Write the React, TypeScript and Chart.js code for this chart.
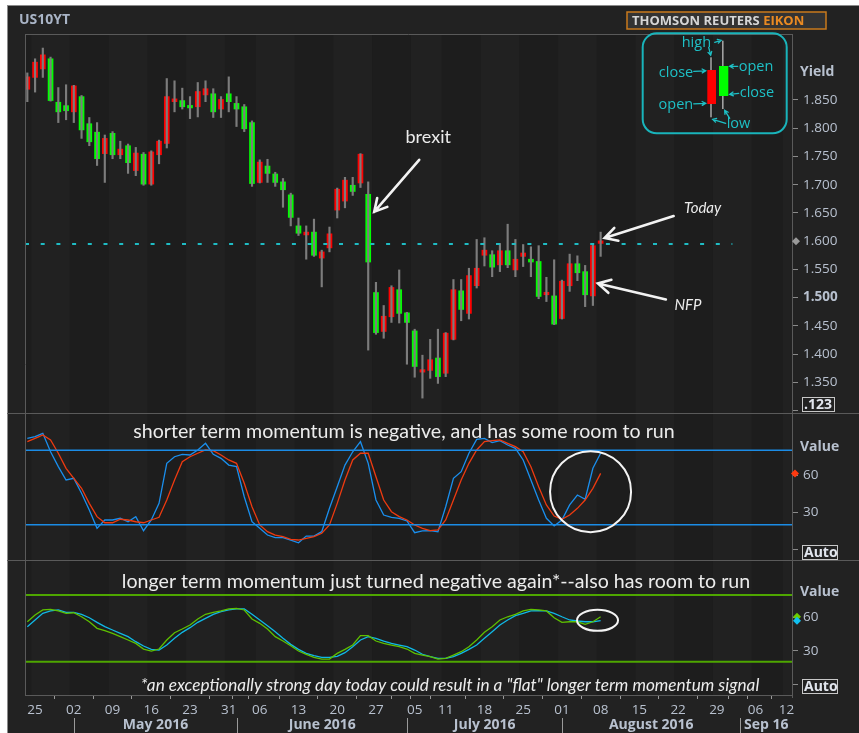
import React, { useEffect, useRef } from 'react';
import { Chart, registerables } from 'chart.js';
Chart.register(...registerables);

// ---------- data ----------
const SYMBOL = 'US10YT';
// daily candles (trading-day index 0 = 22 Apr 2016 ... 74 = 08 Aug 2016)
const OPEN = [1.869,1.890,1.905,1.923,1.846,1.840,1.829,1.856,1.808,1.793,1.755,1.791,1.753,1.769,1.725,1.754,1.701,1.753,1.773,1.847,1.849,1.840,1.838,1.859,1.861,1.834,1.861,1.844,1.838,1.810,1.704,1.733,1.719,1.705,1.682,1.627,1.611,1.616,1.570,1.588,1.655,1.671,1.699,1.703,1.683,1.509,1.440,1.466,1.514,1.473,1.441,1.368,1.371,1.393,1.366,1.426,1.512,1.472,1.521,1.575,1.576,1.558,1.583,1.549,1.573,1.568,1.564,1.505,1.503,1.463,1.521,1.560,1.546,1.503,1.596];
const HIGH = [1.898,1.923,1.942,1.926,1.872,1.877,1.876,1.858,1.819,1.810,1.788,1.794,1.777,1.772,1.766,1.757,1.760,1.779,1.888,1.884,1.871,1.856,1.881,1.884,1.870,1.856,1.891,1.856,1.842,1.813,1.744,1.745,1.722,1.711,1.685,1.641,1.627,1.639,1.584,1.625,1.694,1.713,1.713,1.755,1.705,1.527,1.486,1.521,1.549,1.474,1.444,1.398,1.426,1.444,1.438,1.532,1.532,1.552,1.603,1.606,1.583,1.596,1.630,1.603,1.594,1.590,1.592,1.536,1.567,1.531,1.577,1.574,1.557,1.593,1.616];
const LOW = [1.847,1.864,1.890,1.848,1.810,1.815,1.810,1.782,1.769,1.734,1.704,1.746,1.746,1.720,1.716,1.699,1.699,1.737,1.765,1.829,1.834,1.817,1.820,1.847,1.819,1.819,1.829,1.803,1.794,1.697,1.703,1.704,1.697,1.660,1.627,1.610,1.568,1.573,1.519,1.581,1.641,1.659,1.681,1.695,1.407,1.435,1.428,1.456,1.455,1.382,1.359,1.322,1.357,1.348,1.360,1.425,1.459,1.462,1.517,1.556,1.537,1.546,1.553,1.537,1.555,1.537,1.498,1.493,1.452,1.462,1.511,1.530,1.484,1.486,1.573];
const CLOSE = [1.891,1.917,1.930,1.849,1.829,1.831,1.875,1.797,1.776,1.746,1.782,1.753,1.763,1.739,1.756,1.701,1.758,1.777,1.856,1.852,1.838,1.836,1.865,1.870,1.829,1.851,1.847,1.834,1.799,1.702,1.740,1.720,1.704,1.691,1.642,1.614,1.616,1.575,1.581,1.613,1.692,1.708,1.688,1.754,1.563,1.438,1.467,1.518,1.472,1.456,1.378,1.372,1.390,1.360,1.437,1.514,1.479,1.539,1.552,1.584,1.554,1.583,1.558,1.568,1.579,1.563,1.502,1.509,1.453,1.529,1.560,1.544,1.505,1.592,1.600];
const LAST_LEVEL = 1.595;
const LAST_LEVEL_END = 91;

// shorter-term momentum (blue fast line, red slow line)
const SHORT_FAST = [89.5,90.8,93.5,78.7,66.7,56.0,57.3,45.3,31.9,17.1,23.8,23.8,25.2,22.4,26.5,15.2,23.8,37.2,69.4,74.7,76.6,76.1,80.1,85.5,76.6,73.4,68.0,66.7,42.5,22.4,17.1,11.7,9.6,9.6,7.7,5.5,10.9,10.9,14.4,33.2,50.6,68.0,78.7,86.8,69.4,39.9,27.8,26.0,25.2,23.0,13.6,15.0,15.2,14.4,34.5,57.3,62.7,77.5,88.7,89.5,86.0,87.6,84.1,81.4,72.1,56.0,39.9,25.2,19.0,23.8,35.9,43.9,40.5,65.4,77.5];
const SHORT_SLOW = [86.8,89.5,92.2,88.2,77.5,65.4,57.3,49.3,37.2,26.5,21.6,21.6,24.4,23.8,22.4,21.6,23.8,26.0,39.9,56.0,70.7,74.7,77.5,80.1,79.5,76.1,72.1,69.4,53.3,34.5,19.8,14.4,11.7,10.4,8.3,7.7,9.1,10.4,13.1,19.8,37.2,56.0,72.1,77.5,77.5,58.6,39.9,30.5,26.5,23.8,19.8,17.1,15.2,15.8,23.8,39.9,56.0,69.4,80.1,86.8,87.6,88.2,85.5,82.8,78.7,66.7,50.6,35.9,27.0,24.4,27.8,33.2,39.9,49.3,61.3];
// longer-term momentum (green and cyan lines)
const LONG_A = [56.0,62.1,66.6,67.2,65.7,63.6,64.1,60.5,56.0,50.1,48.0,45.6,42.6,39.6,36.6,31.5,29.7,31.5,39.6,46.2,49.5,53.1,58.5,62.7,64.5,65.7,67.5,68.1,66.6,58.5,54.6,49.5,42.6,38.7,34.5,29.7,26.7,24.0,22.5,22.5,27.6,31.2,35.1,43.5,43.5,38.7,36.6,35.1,33.6,31.5,27.6,26.1,24.6,22.5,23.1,26.1,29.1,33.6,39.6,46.5,51.6,57.6,60.5,62.7,65.7,67.2,66.6,65.7,59.6,55.5,56.0,56.0,53.7,56.0,60.5];
const LONG_B = [51.6,57.6,63.6,65.7,66.6,64.5,64.5,62.7,59.6,55.5,51.6,48.6,45.6,42.6,38.1,34.2,31.2,30.6,35.1,41.1,46.5,50.7,55.5,59.1,62.7,65.1,66.6,67.5,67.5,62.7,57.6,52.5,47.1,41.1,35.7,31.2,27.6,25.5,24.0,24.0,24.9,28.2,33.6,39.6,42.6,41.1,38.7,36.6,35.1,33.6,30.6,26.8,24.6,23.1,23.1,24.6,27.6,31.2,35.1,41.1,47.1,53.1,57.6,61.5,63.6,65.7,66.0,65.7,63.6,60.5,57.6,56.7,56.0,56.0,57.0];
const BAND_LEVELS = [20, 80];

// axis labels
const DAY_TICK_IDX = [1,6,11,16,21,26,30,35,40,45,50,54,59,64,69,74,79,84,89,94,98];
const DAY_TICK_LABELS = ['25','02','09','16','23','31','06','13','20','27','05','11','18','25','01','08','15','22','29','06','12'];
const MONTH_START_IDX = [6,27,49,69,92];
const MONTH_LABELS = ['May 2016','June 2016','July 2016','August 2016','Sep 16'];
const WEEK_START_IDX = [1,6,11,16,21,26,30,35,40,45,50,54,59,64,69,74,79,84,89,94,98];
const PRICE_TICKS = [1.30,1.35,1.40,1.45,1.50,1.55,1.60,1.65,1.70,1.75,1.80,1.85];
const OSC_TICKS = [0,30,60];

// annotation texts
const BREXIT_TXT = 'brexit';
const TODAY_TXT = 'Today';
const NFP_TXT = 'NFP';
const SHORT_TXT = 'shorter term momentum is negative, and has some room to run';
const LONG_TXT = 'longer term momentum just turned negative again*--also has room to run';
const NOTE_TXT = '*an exceptionally strong day today could result in a "flat" longer term momentum signal';

// ---------- styles ----------
const W = 859, H = 733;
const RED = '#ff0000';
const GREEN = '#00ff00';
const WICK = '#7c7c7c';
const AXIS_TXT = '#b8c1cf';
const OUTER_BG = '#222222';
const PLOT_BG = '#1d1d1d';
const PLOT_BG2 = '#212121';
const FRAME = '#5a5a5a';
const UI_FONT = '"Open Sans", sans-serif';
const NOTE_FONT = 'Lato, "Open Sans", sans-serif';
const CYAN = '#1ec0c6';

export default function App() {
  const ref = useRef<HTMLCanvasElement>(null);

  useEffect(() => {
    const canvas = ref.current!;
    const idx = OPEN.map((_, i) => i);
    const wickData = idx.map(i => ({ x: i, y: [LOW[i], HIGH[i]] }));
    const bodyData = idx.map(i => ({ x: i, y: [Math.min(OPEN[i], CLOSE[i]), Math.max(OPEN[i], CLOSE[i])] }));
    const bodyColors = idx.map(i => (CLOSE[i] >= OPEN[i] ? RED : GREEN));
    const line = (arr: number[]) => arr.map((v, i) => ({ x: i, y: v }));
    const X_MIN = -0.3, X_MAX = 98.7;
    const hline = (v: number) => [{ x: X_MIN, y: v }, { x: X_MAX, y: v }];

    const arrow = (ctx: CanvasRenderingContext2D, x1: number, y1: number, x2: number, y2: number, head: number) => {
      const a = Math.atan2(y2 - y1, x2 - x1);
      ctx.beginPath();
      ctx.moveTo(x1, y1); ctx.lineTo(x2, y2);
      ctx.moveTo(x2 - head * Math.cos(a - 0.5), y2 - head * Math.sin(a - 0.5));
      ctx.lineTo(x2, y2);
      ctx.lineTo(x2 - head * Math.cos(a + 0.5), y2 - head * Math.sin(a + 0.5));
      ctx.stroke();
    };
    const diamond = (ctx: CanvasRenderingContext2D, x: number, y: number, r: number, c: string) => {
      ctx.fillStyle = c;
      ctx.beginPath();
      ctx.moveTo(x, y - r); ctx.lineTo(x + r, y); ctx.lineTo(x, y + r); ctx.lineTo(x - r, y);
      ctx.closePath(); ctx.fill();
    };
    const boxText = (ctx: CanvasRenderingContext2D, x: number, y: number, w: number, h: number, t: string) => {
      ctx.fillStyle = OUTER_BG; ctx.fillRect(x, y, w, h);
      ctx.strokeStyle = '#c8c8c8'; ctx.lineWidth = 1; ctx.strokeRect(x + 0.5, y + 0.5, w - 1, h - 1);
      ctx.fillStyle = '#e2e6ee'; ctx.font = `bold 14px ${UI_FONT}`;
      ctx.textAlign = 'left'; ctx.textBaseline = 'middle';
      ctx.fillText(t, x + 2, y + h / 2 + 0.5);
    };

    const decor = {
      id: 'decor',
      beforeDraw(chart: any) {
        const { ctx, chartArea: ca, scales } = chart;
        const xs = scales.x;
        ctx.save();
        ctx.fillStyle = '#ffffff'; ctx.fillRect(0, 0, W, H);
        ctx.fillStyle = OUTER_BG; ctx.fillRect(7, 5, W - 7, H - 5);
        ctx.fillStyle = PLOT_BG; ctx.fillRect(ca.left, ca.top, ca.width, ca.height);
        ctx.fillStyle = PLOT_BG2;
        for (let k = 0; k < WEEK_START_IDX.length; k += 2) {
          const a = xs.getPixelForValue(WEEK_START_IDX[k] - 0.5);
          const bIdx = k + 1 < WEEK_START_IDX.length ? WEEK_START_IDX[k + 1] - 0.5 : X_MAX;
          const b = Math.min(xs.getPixelForValue(bIdx), ca.right);
          ctx.fillRect(a, ca.top, b - a, ca.height);
        }
        ctx.restore();
      },
      afterDraw(chart: any) {
        const { ctx, chartArea: ca, scales } = chart;
        const xs = scales.x, yP = scales.yP, yS = scales.yS, yL = scales.yL;
        const px = (i: number) => xs.getPixelForValue(i);
        ctx.save();
        // frame lines
        ctx.strokeStyle = '#8a8a8a'; ctx.lineWidth = 1;
        ctx.beginPath(); ctx.moveTo(7, 5.5); ctx.lineTo(W, 5.5); ctx.moveTo(7.5, 5); ctx.lineTo(7.5, H); ctx.stroke();
        ctx.strokeStyle = FRAME;
        ctx.beginPath();
        ctx.moveTo(ca.left, ca.top + 0.5); ctx.lineTo(ca.right, ca.top + 0.5);
        ctx.moveTo(ca.left + 0.5, ca.top); ctx.lineTo(ca.left + 0.5, ca.bottom);
        ctx.moveTo(ca.left, ca.bottom + 0.5); ctx.lineTo(ca.right, ca.bottom + 0.5);
        ctx.moveTo(ca.right + 0.5, ca.top); ctx.lineTo(ca.right + 0.5, ca.bottom + 3);
        ctx.moveTo(7, Math.round(yP.bottom) + 0.5); ctx.lineTo(W, Math.round(yP.bottom) + 0.5);
        ctx.moveTo(7, Math.round(yS.bottom) + 0.5); ctx.lineTo(W, Math.round(yS.bottom) + 0.5);
        ctx.stroke();

        // title + logo
        ctx.textBaseline = 'middle'; ctx.textAlign = 'left';
        ctx.fillStyle = '#a9b4c6'; ctx.font = `bold 14px ${UI_FONT}`;
        ctx.fillText(SYMBOL, 19, 20);
        ctx.fillStyle = '#333333'; ctx.fillRect(627, 12, 199, 17);
        ctx.strokeStyle = '#c97a1c'; ctx.lineWidth = 1.5; ctx.strokeRect(627, 12, 199, 17);
        ctx.font = `bold 13px ${UI_FONT}`;
        ctx.fillStyle = '#d6d6d6'; ctx.fillText('THOMSON REUTERS ', 632, 21);
        const tw = ctx.measureText('THOMSON REUTERS ').width;
        ctx.fillStyle = '#ea8a22'; ctx.fillText('EIKON', 632 + tw, 21);

        // axis titles and markers
        ctx.fillStyle = AXIS_TXT; ctx.font = `bold 14px ${UI_FONT}`;
        ctx.fillText('Yield', 800, yP.getPixelForValue(1.9));
        ctx.fillText('Value', 800, yS.getPixelForValue(82.5));
        ctx.fillText('Value', 800, yL.getPixelForValue(82.7));
        diamond(ctx, ca.right + 4, yP.getPixelForValue(1.60), 4, '#9a9a9a');
        diamond(ctx, ca.right + 3, yS.getPixelForValue(SHORT_SLOW[SHORT_SLOW.length - 1]), 4, '#ff3a10');
        diamond(ctx, ca.right + 5, yL.getPixelForValue(LONG_A[LONG_A.length - 1]), 4, '#6ccc00');
        diamond(ctx, ca.right + 5, yL.getPixelForValue(LONG_B[LONG_B.length - 1]), 4, '#10c0f0');
        boxText(ctx, 802, Math.round(yP.getPixelForValue(1.303)) - 12, 33, 15, '.123');
        boxText(ctx, 802, Math.round(yS.getPixelForValue(0)) - 5, 36, 15, 'Auto');
        boxText(ctx, 802, Math.round(yL.getPixelForValue(-2.3)) - 8, 36, 15, 'Auto');

        // month labels
        ctx.strokeStyle = '#9a9a9a'; ctx.lineWidth = 1;
        ctx.fillStyle = AXIS_TXT; ctx.font = `bold 14px ${UI_FONT}`;
        ctx.textAlign = 'center';
        MONTH_START_IDX.forEach((m, k) => {
          const x = Math.round(px(m)) + 0.5;
          ctx.beginPath(); ctx.moveTo(x, 718); ctx.lineTo(x, H); ctx.stroke();
          const endX = k + 1 < MONTH_START_IDX.length ? px(MONTH_START_IDX[k + 1]) : ca.right;
          ctx.fillText(MONTH_LABELS[k], (x + endX) / 2, 725);
        });

        // annotations
        ctx.strokeStyle = '#f2f2f2'; ctx.lineWidth = 2.6; ctx.lineCap = 'round';
        const bx = px(44) + 6, by = yP.getPixelForValue(1.652);
        arrow(ctx, bx + 45, by - 52, bx, by, 14);
        const tx = px(74) + 4, ty = yP.getPixelForValue(1.6055);
        arrow(ctx, tx + 69, ty - 22, tx, ty, 14);
        const nx = px(73) + 5, ny = yP.getPixelForValue(1.525);
        arrow(ctx, nx + 68, ny + 16, nx, ny, 14);
        ctx.fillStyle = '#ececec'; ctx.textAlign = 'center'; ctx.textBaseline = 'middle';
        ctx.font = `18px ${NOTE_FONT}`;
        ctx.fillText(BREXIT_TXT, px(44) + 60, yP.getPixelForValue(1.784));
        ctx.font = `italic 15px ${NOTE_FONT}`;
        ctx.fillText(TODAY_TXT, px(74) + 102, yP.getPixelForValue(1.659));
        ctx.fillText(NFP_TXT, px(73) + 95, yP.getPixelForValue(1.487));

        ctx.font = `19.6px ${NOTE_FONT}`;
        ctx.fillText(SHORT_TXT, 404, yS.getPixelForValue(94.8));
        ctx.fillText(LONG_TXT, 436, yL.getPixelForValue(92));
        ctx.font = `italic 17.2px ${NOTE_FONT}`;
        ctx.fillText(NOTE_TXT, 450, yL.getPixelForValue(-1.3));

        ctx.strokeStyle = '#f4f4f4'; ctx.lineWidth = 2;
        ctx.beginPath();
        ctx.arc(px(72.7), yS.getPixelForValue(46.6), 40.5, 0, Math.PI * 2);
        ctx.stroke();
        ctx.beginPath();
        ctx.ellipse(px(73.6), yL.getPixelForValue(57.3), 20.5, 10.5, 0, 0, Math.PI * 2);
        ctx.stroke();

        // candle legend box
        const L = ca.right - 149.3, T = ca.top - 0.7;
        ctx.strokeStyle = '#19b4bb'; ctx.lineWidth = 2;
        ctx.beginPath();
        (ctx as any).roundRect(L, T, 144, 100, 14);
        ctx.stroke();
        ctx.fillStyle = '#a0a0a0';
        ctx.fillRect(L + 67.5, T + 24, 1.6, 60);
        ctx.fillRect(L + 79.3, T + 7.4, 1.6, 68.3);
        ctx.fillStyle = RED; ctx.fillRect(L + 64.6, T + 36.7, 8.7, 34);
        ctx.fillStyle = GREEN; ctx.fillRect(L + 76.3, T + 32.7, 9.3, 30);
        ctx.fillStyle = CYAN; ctx.strokeStyle = CYAN; ctx.lineWidth = 1.3;
        ctx.font = `14.5px ${UI_FONT}`; ctx.textBaseline = 'middle';
        ctx.textAlign = 'left';
        ctx.fillText('high', L + 39, T + 9.5);
        ctx.fillText('open', L + 96, T + 33.5);
        ctx.fillText('close', L + 97, T + 59.5);
        ctx.fillText('low', L + 84, T + 91);
        ctx.textAlign = 'right';
        ctx.fillText('close', L + 50.5, T + 39.5);
        ctx.fillText('open', L + 50.5, T + 71.5);
        arrow(ctx, L + 51, T + 38, L + 63, T + 37.5, 4);
        arrow(ctx, L + 51, T + 70.5, L + 63, T + 70, 4);
        arrow(ctx, L + 95, T + 33, L + 87, T + 33, 4);
        arrow(ctx, L + 96, T + 60, L + 87, T + 61, 4);
        arrow(ctx, L + 66, T + 14, L + 68, T + 22, 4);
        arrow(ctx, L + 72, T + 9, L + 78.5, T + 7, 4);
        arrow(ctx, L + 83, T + 90, L + 70, T + 86, 4);
        arrow(ctx, L + 87, T + 85, L + 82, T + 77, 4);
        ctx.restore();
      },
    };

    const yBase = (min: number, max: number, weight: number, ticks: number[], fmt: (v: number) => string) => ({
      type: 'linear', position: 'right', stack: 'right', stackWeight: weight, min, max,
      afterBuildTicks: (s: any) => { s.ticks = ticks.map(v => ({ value: v })); },
      afterFit: (s: any) => { s.width = 67; },
      grid: { drawOnChartArea: false, drawTicks: true, tickLength: 6, color: '#8a8a8a' },
      border: { display: false },
      ticks: {
        autoSkip: false,
        color: AXIS_TXT, padding: 5,
        font: (c: any) => ({ family: UI_FONT, size: 13.5, weight: c.tick && Math.abs(c.tick.value - 1.5) < 1e-9 ? 'bold' : 'normal' }),
        callback: (v: any) => fmt(Number(v)),
      },
    });

    const xTicks = Array.from(new Set([...DAY_TICK_IDX, ...MONTH_START_IDX])).sort((a, b) => a - b);

    const chart = new Chart(canvas, {
      type: 'bar',
      data: {
        datasets: [
          { type: 'line', data: hline(BAND_LEVELS[0]), yAxisID: 'yS', borderColor: '#1b8ce6', borderWidth: 1.5, pointRadius: 0 },
          { type: 'line', data: hline(BAND_LEVELS[1]), yAxisID: 'yS', borderColor: '#1b8ce6', borderWidth: 1.5, pointRadius: 0 },
          { type: 'line', data: hline(BAND_LEVELS[0]), yAxisID: 'yL', borderColor: '#4ea600', borderWidth: 2, pointRadius: 0 },
          { type: 'line', data: hline(BAND_LEVELS[1]), yAxisID: 'yL', borderColor: '#4ea600', borderWidth: 2, pointRadius: 0 },
          { type: 'line', data: [{ x: X_MIN, y: LAST_LEVEL }, { x: LAST_LEVEL_END, y: LAST_LEVEL }], yAxisID: 'yP', borderColor: '#1fbcc4', borderWidth: 2, borderDash: [4, 11.7], pointRadius: 0 },
          { type: 'bar', data: wickData as any, yAxisID: 'yP', backgroundColor: WICK, barThickness: 1.5, grouped: false, borderWidth: 0 },
          { type: 'bar', data: bodyData as any, yAxisID: 'yP', backgroundColor: bodyColors, barThickness: 5, grouped: false, borderWidth: 0, minBarLength: 2.5 },
          { type: 'line', data: line(SHORT_SLOW), yAxisID: 'yS', borderColor: '#ee3a10', borderWidth: 1.3, pointRadius: 0 },
          { type: 'line', data: line(SHORT_FAST), yAxisID: 'yS', borderColor: '#1a8fee', borderWidth: 1.3, pointRadius: 0 },
          { type: 'line', data: line(LONG_A), yAxisID: 'yL', borderColor: '#5ec000', borderWidth: 1.3, pointRadius: 0 },
          { type: 'line', data: line(LONG_B), yAxisID: 'yL', borderColor: '#10b8e6', borderWidth: 1.3, pointRadius: 0 },
        ] as any,
      },
      options: {
        responsive: false,
        animation: false,
        events: [],
        layout: { padding: { left: 25, top: 34, right: 0, bottom: 0 } },
        plugins: { legend: { display: false }, tooltip: { enabled: false } },
        scales: {
          x: {
            type: 'linear', position: 'bottom', min: X_MIN, max: X_MAX, offset: false,
            afterBuildTicks: (s: any) => { s.ticks = xTicks.map(v => ({ value: v })); },
            afterFit: (s: any) => { s.height = 38; },
            grid: { drawOnChartArea: false, drawTicks: true, tickLength: 4, color: '#9a9a9a' },
            border: { display: false },
            ticks: {
              autoSkip: false, maxRotation: 0, color: AXIS_TXT, padding: 3,
              font: { family: UI_FONT, size: 13.5 },
              callback: (v: any) => { const k = DAY_TICK_IDX.indexOf(Number(v)); return k >= 0 ? DAY_TICK_LABELS[k] : ''; },
            },
          },
          yP: yBase(1.2956, 1.9669, 379, PRICE_TICKS, v => (v < 1.32 ? '' : v.toFixed(3))),
          yS: yBase(-8.37, 109.87, 147, OSC_TICKS, v => (v === 0 ? '' : String(v))),
          yL: yBase(-9.8, 111.5, 135, OSC_TICKS, v => (v === 0 ? '' : String(v))),
        } as any,
      },
      plugins: [decor],
    });
    return () => chart.destroy();
  }, []);

  return (
    <div style={{ position: 'fixed', left: 0, top: 0, width: W, height: H }}>
      <canvas ref={ref} width={W} height={H} style={{ display: 'block', width: W, height: H }} />
    </div>
  );
}
